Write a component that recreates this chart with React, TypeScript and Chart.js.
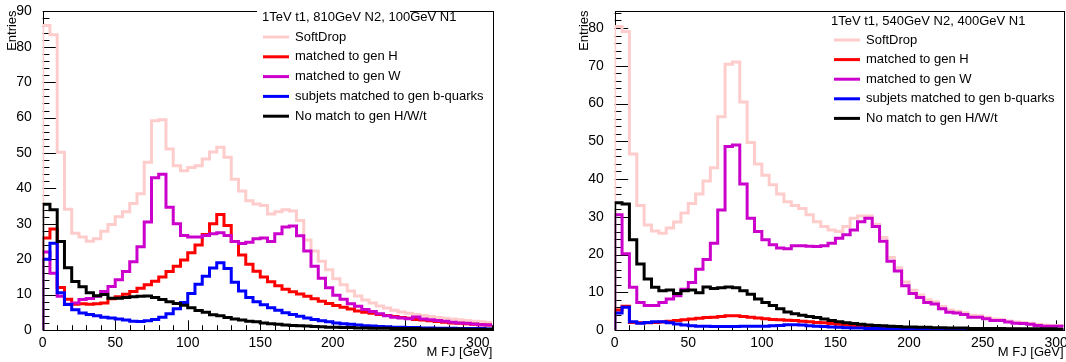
import React, { useEffect, useRef } from 'react';
import { Chart, registerables } from 'chart.js';

Chart.register(...registerables);

// ---------------- data ----------------
const binWidth = 5; // GeV per bin, bins start at 0

const seriesNames = [
  'SoftDrop',
  'matched to gen H',
  'matched to gen W',
  'subjets matched to gen b-quarks',
  'No match to gen H/W/t',
];
const seriesColors = ['#ffcccc', '#ff0000', '#cc00cc', '#0000ff', '#000000'];

const leftTitle = '1TeV t1, 810GeV N2, 100GeV N1';
const rightTitle = '1TeV t1, 540GeV N2, 400GeV N1';

const xTickValues = [0, 50, 100, 150, 200, 250, 300];
const yTicksLeft = [0, 10, 20, 30, 40, 50, 60, 70, 80, 90];
const yTicksRight = [0, 10, 20, 30, 40, 50, 60, 70, 80];

// Left panel (810 / 100)
const leftSoftDrop = [
  86, 83.4, 50.2, 34.1, 27.3, 26.3, 25.1, 25.8, 27.9, 29.8,
  32, 33.4, 35.7, 38.5, 47.4, 59.1, 59.4, 51.1, 46.4, 45,
  45.9, 46.4, 48.3, 50.3, 51.6, 48.8, 42.6, 39.3, 36.5, 35.6,
  35.2, 32.8, 33.4, 34, 33.6, 30.9, 25.4, 22.3, 19.4, 17,
  14.5, 12.8, 11, 9.6, 8.5, 7.6, 6.8, 6.2, 5.6, 5.1,
  4.7, 4.4, 4.1, 3.8, 3.5, 3.3, 3.1, 2.9, 2.7, 2.5,
  2.3, 2.1,
];
const leftH = [
  26, 28.5, 12, 8.7, 7.3, 7.4, 7.3, 7.4, 7.6, 8.8,
  9.4, 10.1, 10.9, 11.8, 12.8, 13.8, 15, 16.5, 18, 19.8,
  21.8, 24, 27, 30, 32.6, 29.5, 25, 21.2, 18.6, 16.6,
  15, 13.6, 12.5, 11.5, 10.8, 10.2, 9.5, 8.8, 8.1, 7.5,
  6.9, 6.4, 5.9, 5.4, 5, 4.7, 4.4, 4.1, 3.8, 3.5,
  3.3, 3, 2.8, 2.6, 2.4, 2.2, 2, 1.9, 1.8, 1.6,
  1.5, 1.4,
];
const leftW = [
  22, 16, 9.5, 7.3, 7.6, 8.6, 8.9, 9.5, 10.9, 12.3,
  14.2, 16.5, 19.3, 23.5, 30.5, 43, 44, 34.7, 30, 26.7,
  26.3, 26.3, 26.7, 27.2, 27.5, 26.7, 25, 24.4, 24.8, 25.8,
  26, 25, 27.2, 29.1, 29.4, 26.6, 22.3, 18, 14.6, 11.9,
  9.8, 8.7, 7.4, 6.7, 5.8, 5.2, 4.6, 4, 3.6, 3.4,
  3.2, 3.7, 3.1, 2.9, 2.7, 2.5, 2.2, 2.0, 1.9, 1.7,
  1.5, 1.4,
];
const leftB = [
  20, 24.5, 10.5, 7.2, 5.7, 4.8, 4.4, 4, 3.6, 3.4,
  3.1, 2.8, 2.5, 2.4, 2.6, 3, 3.6, 4.6, 6, 7.8,
  10.3, 12.9, 15.2, 17.5, 19, 17.4, 13.5, 11, 9.2, 8,
  7.1, 6.3, 5.6, 4.9, 4.4, 3.9, 3.4, 3, 2.6, 2.3,
  2, 1.8, 1.6, 1.4, 1.2, 1.1, 1, 0.9, 0.8, 0.8,
  0.7, 0.7, 0.6, 0.6, 0.5, 0.5, 0.5, 0.4, 0.4, 0.4,
  0.4, 0.3,
];
const leftNoMatch = [
  35.5, 34, 25, 17.6, 13.7, 12.2, 10.5, 9.7, 10, 9,
  9, 9.2, 9.4, 9.5, 9.6, 9.2, 8.6, 8, 7.5, 7,
  6.3, 5.5, 5, 4.3, 4, 3.5, 3.1, 2.8, 2.5, 2.3,
  2, 1.8, 1.6, 1.4, 1.3, 1.2, 1.1, 1, 0.9, 0.8,
  0.8, 0.7, 0.7, 0.6, 0.6, 0.5, 0.5, 0.5, 0.4, 0.4,
  0.4, 0.4, 0.3, 0.3, 0.3, 0.3, 0.3, 0.3, 0.2, 0.2,
  0.2, 0.2,
];

// Right panel (540 / 400)
const rightSoftDrop = [
  80.4, 79.1, 46.6, 33, 27.8, 26.2, 25.6, 27, 28.6, 31,
  33.5, 36, 39.5, 43, 56.5, 70.4, 71, 60.4, 49.7, 44,
  41, 38.5, 36, 34, 33, 32.2, 30.5, 28.7, 27.4, 26.5,
  26.1, 27.4, 29.6, 30.2, 30.2, 28, 24.5, 19.2, 16.5, 12.7,
  10.5, 9.3, 8, 7.5, 6.2, 5.3, 5, 4.6, 3.9, 3.8,
  3.4, 2.9, 2.8, 2.4, 2.1, 2, 1.8, 1.5, 1.3, 1.2,
  1.2, 1.1,
];
const rightH = [
  5.3, 6.3, 2, 1.9, 1.9, 2, 2.1, 2.3, 2.5, 2.7,
  2.9, 3.1, 3.3, 3.4, 3.6, 3.8, 3.8, 3.6, 3.4, 3.2,
  3, 2.8, 2.7, 2.6, 2.5, 2.3, 2.2, 2, 1.9, 1.7,
  1.5, 1.3, 1.2, 1, 0.9, 0.8, 0.7, 0.6, 0.6, 0.5,
  0.5, 0.4, 0.4, 0.4, 0.3, 0.3, 0.3, 0.3, 0.2, 0.2,
  0.2, 0.2, 0.2, 0.2, 0.2, 0.1, 0.1, 0.1, 0.1, 0.1,
  0.1, 0.1,
];
const rightW = [
  30.5, 20.2, 11.3, 7.3, 6.5, 6.5, 7.3, 8.2, 9.1, 10.8,
  12.6, 16.1, 18.7, 23, 31.8, 48.6, 49, 38.7, 29.6, 26.1,
  23.9, 22.6, 21.7, 21.5, 22.3, 22.3, 22.2, 22.1, 22.3, 23,
  24.3, 25.2, 26.5, 28.7, 29.6, 27.4, 23.5, 18.2, 15.6, 11.7,
  9.7, 8.6, 7.3, 6.9, 5.6, 4.7, 4.5, 4.1, 3.4, 3.4,
  3, 2.5, 2.5, 2.1, 1.8, 1.7, 1.5, 1.2, 1, 1,
  1, 0.9,
];
const rightB = [
  4.5, 6, 2.2, 1.8, 2, 2.2, 2.2, 1.9, 1.6, 1.3,
  1.1, 1, 1, 0.9, 0.9, 0.9, 0.9, 1, 1, 1,
  1, 1.1, 1.2, 1.4, 1.4, 1.3, 1.1, 1, 0.9, 0.8,
  0.7, 0.6, 0.5, 0.5, 0.4, 0.4, 0.3, 0.3, 0.3, 0.3,
  0.2, 0.2, 0.2, 0.2, 0.2, 0.2, 0.2, 0.2, 0.2, 0.2,
  0.2, 0.2, 0.1, 0.1, 0.1, 0.1, 0.1, 0.1, 0.1, 0.1,
  0.1, 0.1,
];
const rightNoMatch = [
  33.7, 33.4, 23.9, 17.5, 13.5, 11.3, 10.4, 10.6, 9.7, 10.4,
  10.6, 9.9, 11.4, 11, 11.2, 11.4, 11.2, 10.4, 9.5, 8.2,
  7.3, 6.5, 5.6, 4.8, 4.3, 3.9, 3.6, 3.3, 2.9, 2.5,
  2.2, 1.9, 1.7, 1.5, 1.3, 1.2, 1.1, 1, 0.9, 0.8,
  0.8, 0.7, 0.7, 0.6, 0.6, 0.5, 0.5, 0.5, 0.4, 0.4,
  0.4, 0.4, 0.4, 0.3, 0.3, 0.3, 0.3, 0.3, 0.3, 0.3,
  0.2, 0.2,
];

// ---------------- helpers ----------------
const FONT = "'Liberation Sans', Arial, Helvetica, sans-serif";

function toStepPoints(values: number[]) {
  const pts: { x: number; y: number }[] = [{ x: 0, y: 0 }];
  values.forEach((v, i) => {
    pts.push({ x: i * binWidth, y: v });
    pts.push({ x: (i + 1) * binWidth, y: v });
  });
  return pts;
}

type Panel = {
  series: number[][];
  xMax: number;
  yMax: number;
  yTicks: number[];
  axisW: number;
  padRight: number;
  title: string;
  entriesX: number;
  legend: { titleX: number; titleY: number; rowY0: number; rowDy: number; s0: number; s1: number; textX: number };
  gap?: [number, number];
};

function framePlugin(p: Panel) {
  return {
    id: 'rootFrame',
    beforeDatasetsDraw(chart: any) {
      const { ctx, chartArea: a, scales } = chart;
      const xs = scales.x;
      const ys = scales.y;
      ctx.save();
      ctx.strokeStyle = '#000';
      ctx.lineWidth = 1;
      ctx.beginPath();
      for (let v = 0; v <= p.xMax + 1e-6; v += 10) {
        const px = Math.round(xs.getPixelForValue(v)) + 0.5;
        const len = v % 50 === 0 ? 9.7 : 4.8;
        ctx.moveTo(px, a.bottom);
        ctx.lineTo(px, a.bottom - len);
      }
      for (let v = 0; v <= p.yMax + 1e-6; v += 2) {
        const py = Math.round(ys.getPixelForValue(v)) + 0.5;
        const len = v % 10 === 0 ? 13.5 : 6.75;
        ctx.moveTo(a.left, py);
        ctx.lineTo(a.left + len, py);
      }
      ctx.stroke();
      ctx.strokeRect(Math.round(a.left) + 0.5, Math.round(a.top) + 0.5, Math.round(a.right - a.left), Math.round(a.bottom - a.top));
      ctx.restore();
    },
    afterDatasetsDraw(chart: any) {
      const { ctx, chartArea: a } = chart;
      ctx.save();
      if (p.gap) {
        ctx.fillStyle = '#fff';
        ctx.fillRect(p.gap[0], a.top - 2, p.gap[1] - p.gap[0], 4);
      }
      ctx.fillStyle = '#000';
      ctx.font = `13px ${FONT}`;
      ctx.textAlign = 'right';
      ctx.textBaseline = 'middle';
      ctx.fillText('M FJ [GeV]', a.right, 352);
      ctx.save();
      ctx.translate(p.entriesX, a.top - 1);
      ctx.rotate(-Math.PI / 2);
      ctx.textAlign = 'right';
      ctx.textBaseline = 'middle';
      ctx.fillText('Entries', 0, 0);
      ctx.restore();
      const L = p.legend;
      ctx.textAlign = 'left';
      ctx.textBaseline = 'middle';
      ctx.fillText(p.title, L.titleX, L.titleY);
      seriesNames.forEach((name, k) => {
        const y = L.rowY0 + k * L.rowDy;
        ctx.strokeStyle = seriesColors[k];
        ctx.lineWidth = 3;
        ctx.beginPath();
        ctx.moveTo(L.s0, y);
        ctx.lineTo(L.s1, y);
        ctx.stroke();
        ctx.fillStyle = '#000';
        ctx.fillText(name, L.textX, y);
      });
      ctx.restore();
    },
  };
}

function makeConfig(p: Panel): any {
  return {
    type: 'line',
    data: {
      datasets: p.series.map((vals, k) => ({
        label: seriesNames[k],
        data: toStepPoints(vals),
        borderColor: seriesColors[k],
        backgroundColor: seriesColors[k],
        borderWidth: 3,
        pointRadius: 0,
        pointHoverRadius: 0,
        fill: false,
        tension: 0,
        order: 5 - k,
        borderJoinStyle: 'miter',
        borderCapStyle: 'butt',
      })),
    },
    options: {
      responsive: false,
      animation: false,
      devicePixelRatio: 1,
      parsing: false,
      events: [],
      layout: { padding: { left: 0, top: 8, right: p.padRight, bottom: 0 } },
      plugins: { legend: { display: false }, tooltip: { enabled: false }, title: { display: false } },
      scales: {
        x: {
          type: 'linear',
          min: 0,
          max: p.xMax,
          grid: { display: false },
          border: { display: false },
          ticks: { font: { family: FONT, size: 14 }, color: '#000', padding: -3, maxRotation: 0, autoSkip: false },
          afterBuildTicks: (s: any) => {
            s.ticks = xTickValues.map((v) => ({ value: v }));
          },
          afterFit: (s: any) => {
            s.height = 32;
          },
        },
        y: {
          type: 'linear',
          min: 0,
          max: p.yMax,
          grid: { display: false },
          border: { display: false },
          ticks: { font: { family: FONT, size: 14 }, color: '#000', padding: 3, autoSkip: false },
          afterBuildTicks: (s: any) => {
            s.ticks = p.yTicks.map((v) => ({ value: v }));
          },
          afterFit: (s: any) => {
            s.width = p.axisW;
          },
        },
      },
    },
    plugins: [framePlugin(p)],
  };
}

const leftPanel: Panel = {
  series: [leftSoftDrop, leftH, leftW, leftB, leftNoMatch],
  xMax: 310,
  yMax: 90,
  yTicks: yTicksLeft,
  axisW: 42.7,
  padRight: 40.7,
  title: leftTitle,
  entriesX: 12,
  legend: { titleX: 262, titleY: 17, rowY0: 37, rowDy: 19.8, s0: 263, s1: 289, textX: 295 },
  gap: [257, 410],
};

const rightPanel: Panel = {
  series: [rightSoftDrop, rightH, rightW, rightB, rightNoMatch],
  xMax: 305,
  yMax: 84.4,
  yTicks: yTicksRight,
  axisW: 81.7,
  padRight: 2.5,
  title: rightTitle,
  entriesX: 51,
  legend: { titleX: 298, titleY: 21.5, rowY0: 40, rowDy: 19.6, s0: 301, s1: 327, textX: 333 },
};

function HistPanel({ panel }: { panel: Panel }) {
  const ref = useRef<HTMLCanvasElement | null>(null);
  useEffect(() => {
    if (!ref.current) return;
    const chart = new Chart(ref.current, makeConfig(panel));
    return () => chart.destroy();
  }, [panel]);
  return <canvas ref={ref} width={533} height={362} style={{ display: 'block', width: 533, height: 362 }} />;
}

export default function App() {
  return (
    <div
      style={{
        position: 'fixed',
        left: 0,
        top: 0,
        width: 1066,
        height: 362,
        display: 'flex',
        background: '#fff',
        overflow: 'hidden',
      }}
    >
      <HistPanel panel={leftPanel} />
      <HistPanel panel={rightPanel} />
    </div>
  );
}
